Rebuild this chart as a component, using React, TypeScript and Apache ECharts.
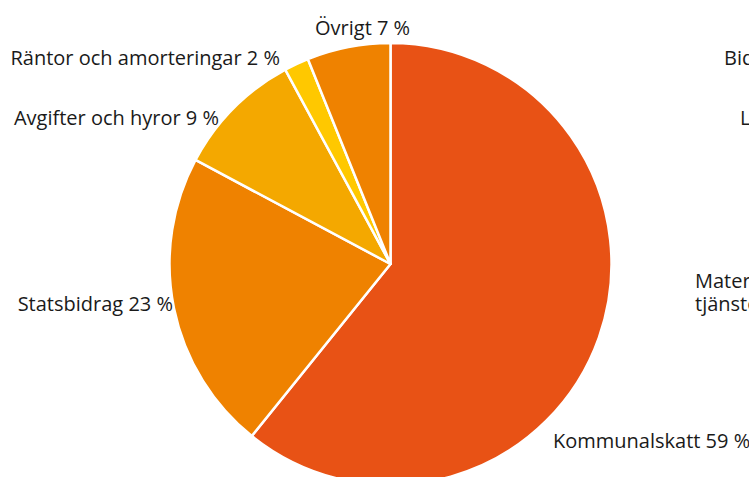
import React, { useEffect, useRef } from "react";
import * as echarts from "echarts";

const categories = ["Kommunalskatt", "Statsbidrag", "Avgifter och hyror", "Räntor och amorteringar", "Övrigt"];
const shares = [60.8, 22.0, 9.3, 1.8, 6.1];
const labelPercents = ["59 %", "23 %", "9 %", "2 %", "7 %"];
const colors = ["#E85215", "#EF8200", "#F4A800", "#FFC800", "#EF8200"];
const rightTexts = ["Bidrag", "Löner", "Material och\ntjänster"];

const labelAnchors: Array<[number, number, "left" | "right"]> = [
  [553, 440, "left"],
  [173, 303, "right"],
  [219, 117, "right"],
  [280, 57, "right"],
  [315, 27, "left"],
];
const rightTextPos: Array<[number, number]> = [
  [724, 57],
  [740, 117],
  [695, 291.5],
];

export default function App() {
  const ref = useRef<HTMLDivElement>(null);
  useEffect(() => {
    document.body.style.margin = "0";
    const chart = echarts.init(ref.current!, null, { renderer: "svg" });
    const font = "'Open Sans', sans-serif";
    const fs = 20;
    chart.setOption({
      animation: false,
      backgroundColor: "#ffffff",
      graphic: rightTexts.map((t, i) => ({
        type: "text",
        x: rightTextPos[i][0],
        y: rightTextPos[i][1],
        style: {
          text: t,
          fontSize: fs,
          lineHeight: 23,
          fontFamily: font,
          fill: "#1a1a1a",
          verticalAlign: "middle",
          align: "left",
        },
      })),
      series: [
        {
          type: "pie",
          center: [390.5, 264],
          radius: 221,
          startAngle: 90,
          clockwise: true,
          avoidLabelOverlap: false,
          itemStyle: { borderColor: "#ffffff", borderWidth: 2.5 },
          label: {
            show: true,
            position: "outside",
            fontSize: fs,
            fontFamily: font,
            color: "#1a1a1a",
            formatter: (p: any) => `${p.name} ${labelPercents[p.dataIndex]}`,
          },
          labelLine: { show: false },
          labelLayout: (p: any) => {
            const a = labelAnchors[p.dataIndex];
            return { x: a[0], y: a[1], align: a[2], verticalAlign: "middle", hideOverlap: false };
          },
          emphasis: { disabled: true },
          data: categories.map((c, i) => ({
            name: c,
            value: shares[i],
            itemStyle: { color: colors[i] },
          })),
        },
      ],
    });
    return () => chart.dispose();
  }, []);
  return <div ref={ref} style={{ width: 749, height: 477 }} />;
}
